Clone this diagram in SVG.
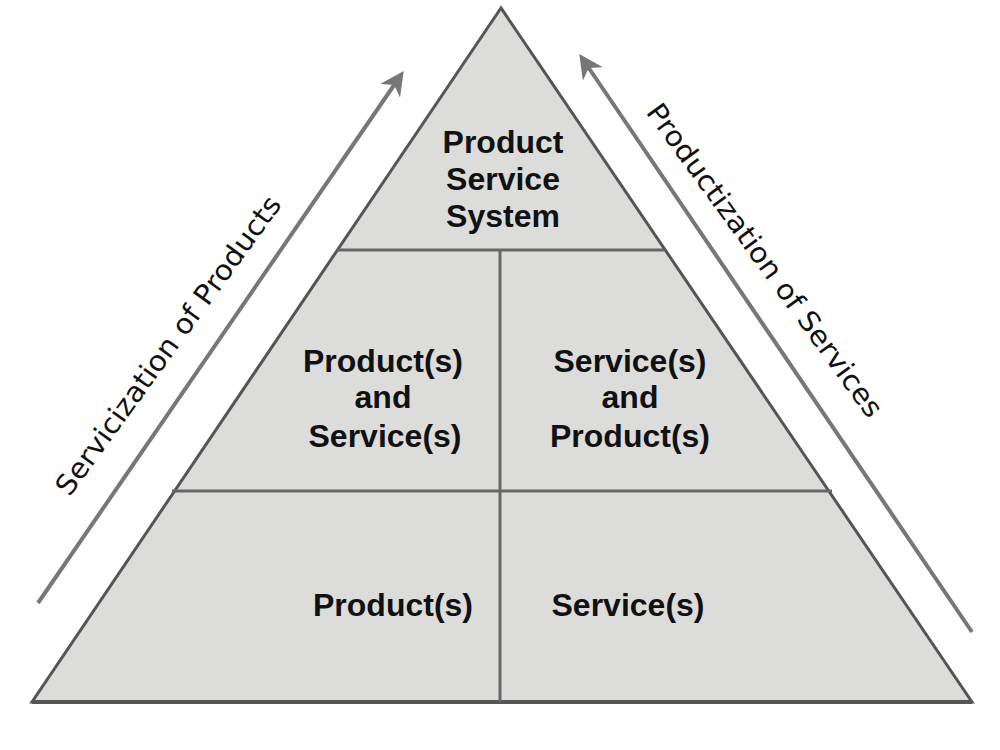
<svg xmlns="http://www.w3.org/2000/svg" width="1000" height="750" viewBox="0 0 1000 750">
<style>
.lbl{font-family:"Liberation Sans",Arial,sans-serif;font-weight:bold;font-size:32px;fill:#111;text-anchor:middle}
.side{font-family:"DejaVu Sans",Verdana,sans-serif;font-size:28px;fill:#111;text-anchor:middle}
.div{stroke:#666;stroke-width:3;fill:none}
.arr{stroke:#777;stroke-width:4;fill:none;marker-end:url(#ah)}
</style>
<defs>
<marker id="ah" viewBox="0 0 10 10" refX="8" refY="5" markerWidth="6" markerHeight="6" markerUnits="strokeWidth" orient="auto">
<path d="M0,0 L10,5 L0,10 L3,5 Z" fill="#777"/>
</marker>
</defs>
<rect width="1000" height="750" fill="#fff"/>
<g id="pyramid">
<polygon points="501,8 32,702 972,702" fill="#dcdddb" stroke="#555" stroke-width="3" stroke-linejoin="miter"/>
<line x1="32" y1="702" x2="972" y2="702" stroke="#555" stroke-width="4"/>
</g>
<g id="dividers">
<line class="div" x1="337" y1="250" x2="665" y2="250"/>
<line class="div" x1="172" y1="491" x2="832" y2="491" stroke="#555"/>
<line class="div" x1="500" y1="250" x2="500" y2="702" stroke="#777"/>
</g>
<g id="connectors">
<line class="arr" x1="38" y1="603" x2="401" y2="75"/>
<line class="arr" x1="972" y1="632" x2="582" y2="58"/>
</g>
<g id="node-pss">
<text class="lbl" x="503" y="153">Product</text>
<text class="lbl" x="503" y="190">Service</text>
<text class="lbl" x="503" y="227">System</text>
</g>
<g id="node-ps">
<text class="lbl" x="383" y="372">Product(s)</text>
<text class="lbl" x="383" y="408">and</text>
<text class="lbl" x="385" y="447">Service(s)</text>
</g>
<g id="node-sp">
<text class="lbl" x="630" y="372">Service(s)</text>
<text class="lbl" x="630" y="408">and</text>
<text class="lbl" x="630" y="447">Product(s)</text>
</g>
<g id="node-p">
<text class="lbl" x="393" y="616">Product(s)</text>
</g>
<g id="node-s">
<text class="lbl" x="628" y="616">Service(s)</text>
</g>
<g id="label-left">
<text class="side" transform="translate(176,351) rotate(-54)" textLength="362" lengthAdjust="spacingAndGlyphs">Servicization of Products</text>
</g>
<g id="label-right">
<text class="side" transform="translate(757,266) rotate(54)" textLength="380" lengthAdjust="spacingAndGlyphs">Productization of Services</text>
</g>
</svg>
